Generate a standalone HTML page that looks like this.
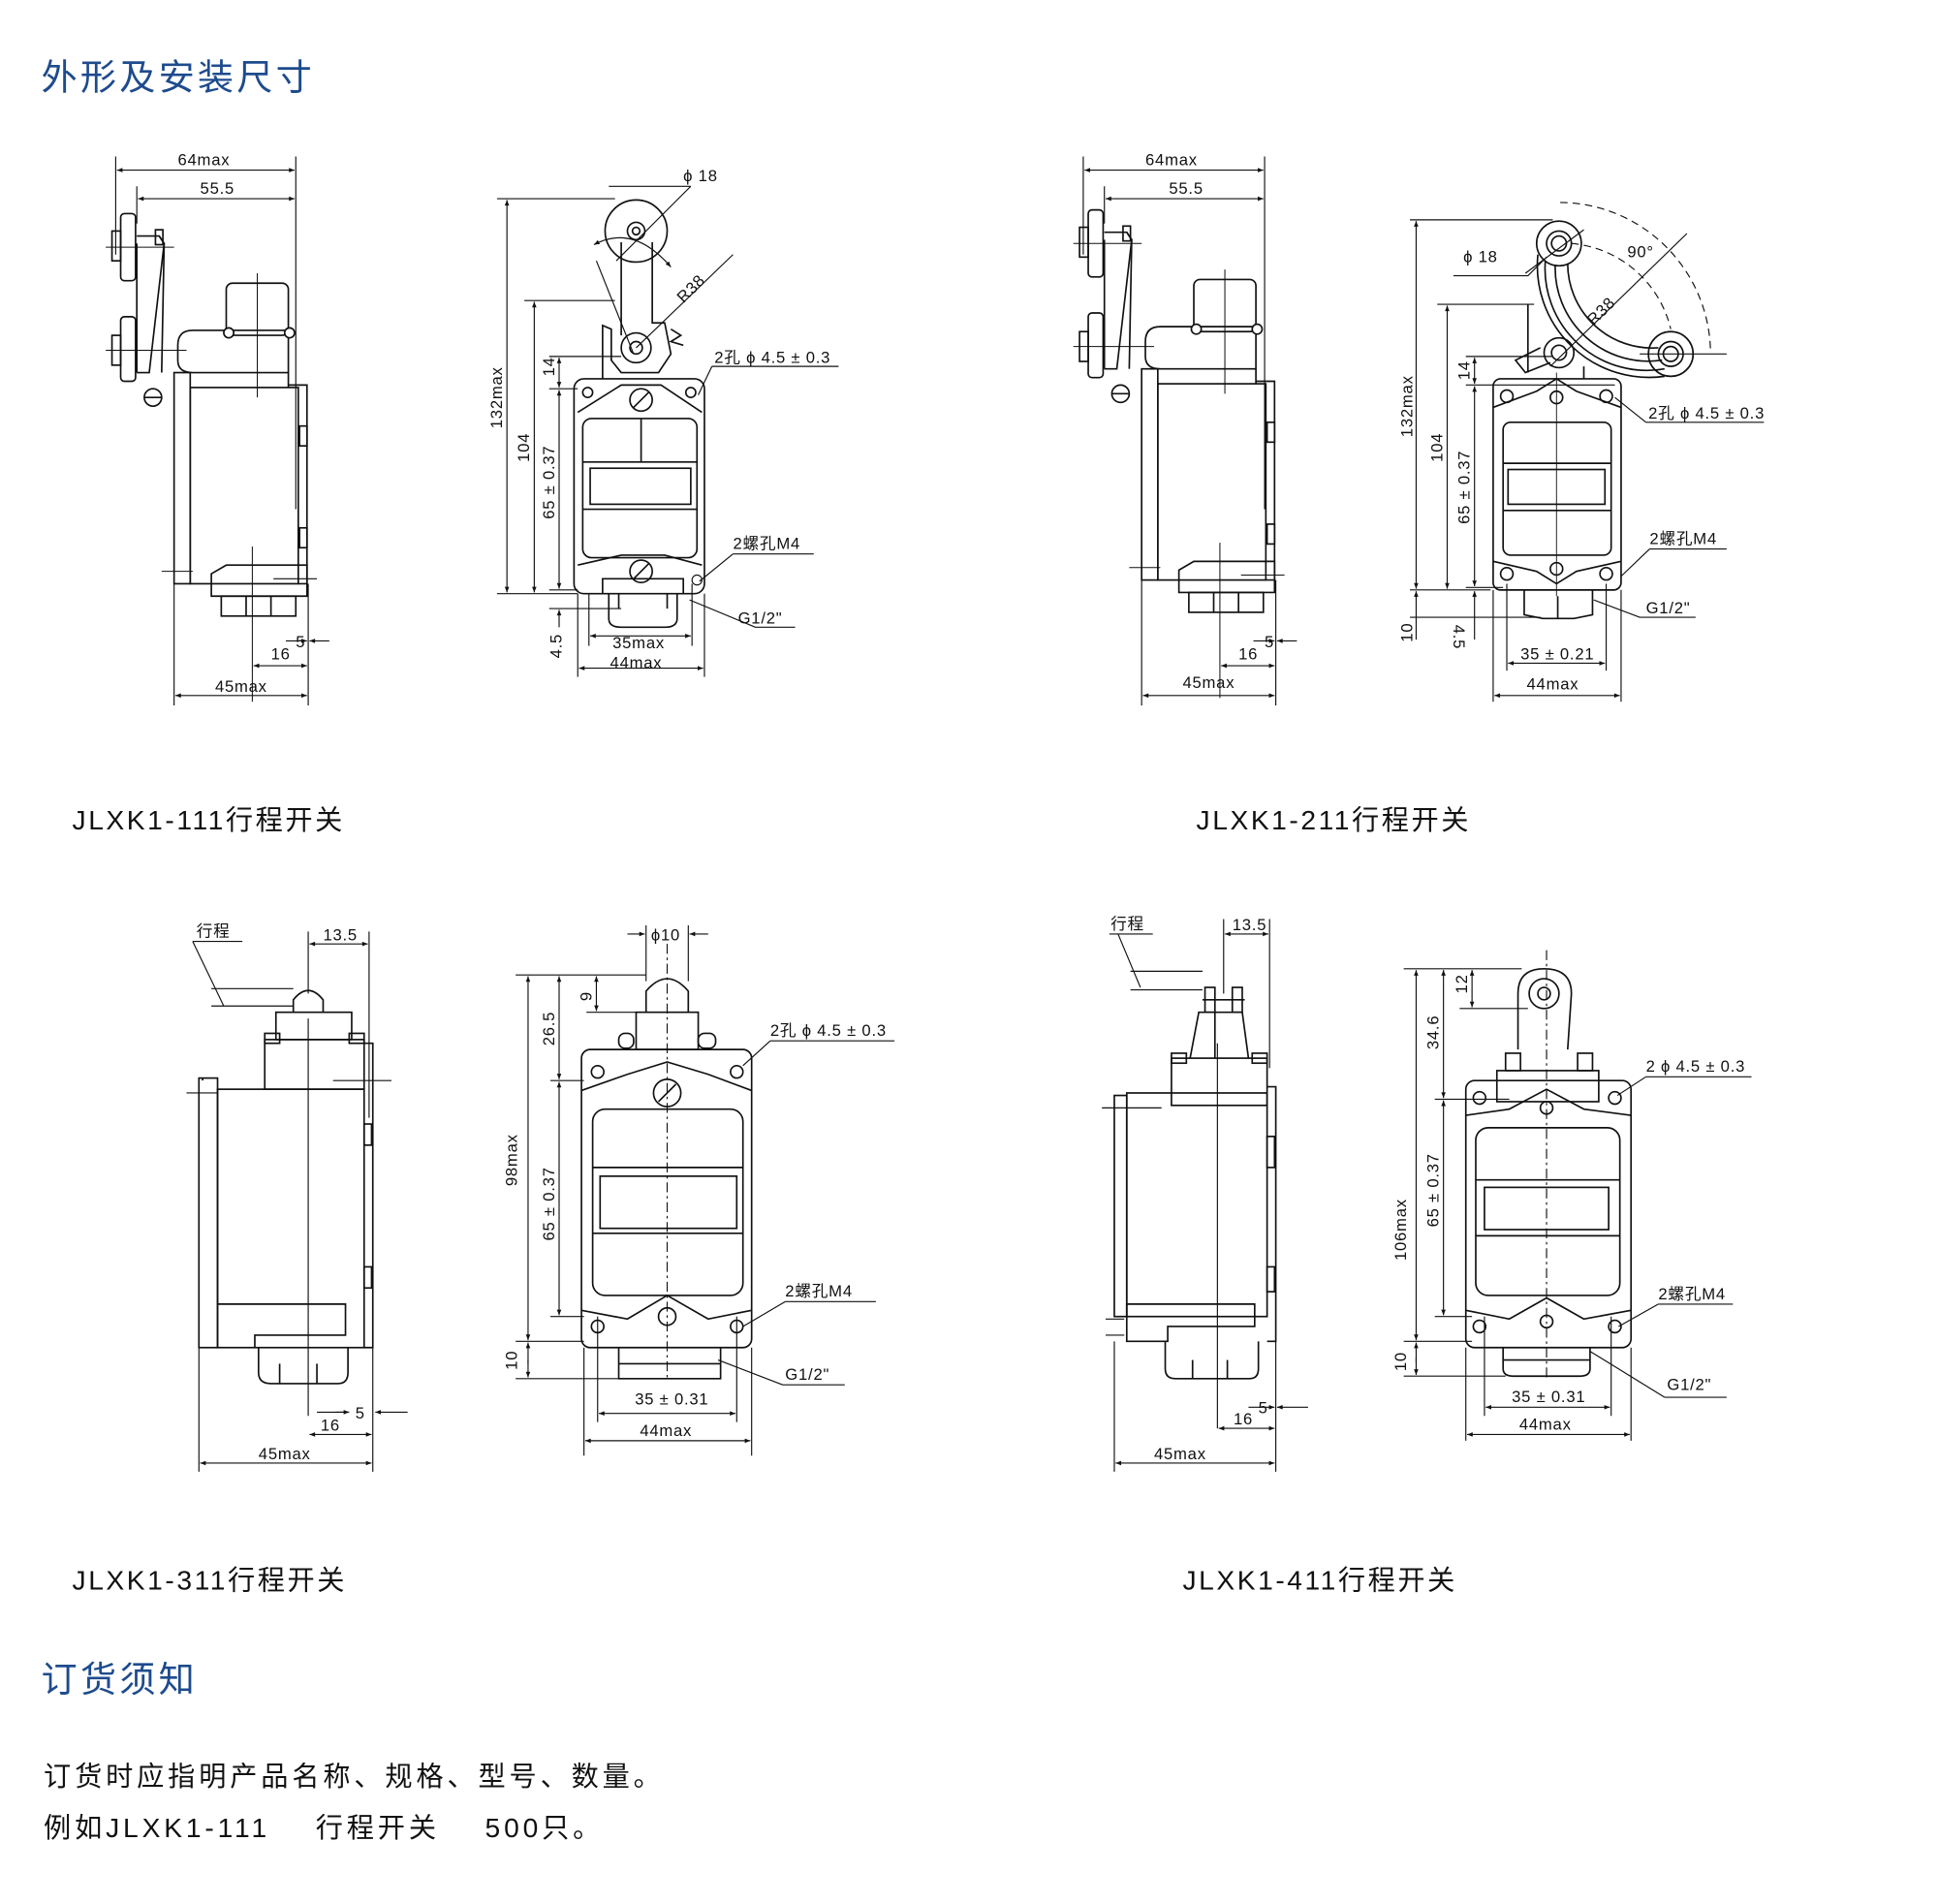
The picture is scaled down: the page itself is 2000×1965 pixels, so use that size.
<!DOCTYPE html>
<html><head><meta charset="utf-8"><style>
html,body{margin:0;padding:0;background:#fff;}
svg{display:block;}
text{font-family:"Liberation Sans","Noto Sans CJK SC",sans-serif;fill:#111;}
.t{font-size:13px;letter-spacing:0.6px;}
.h{font-size:29px;fill:#1e4b8d;letter-spacing:2.5px;}
.c{font-size:22px;fill:#111;letter-spacing:2px;}
.b{font-size:22px;fill:#111;letter-spacing:3px;}
</style></head><body>
<svg width="2000" height="1965" viewBox="0 0 1560 1533" xmlns="http://www.w3.org/2000/svg">
<defs>
<marker id="a" viewBox="0 0 10 10" refX="10" refY="5" markerWidth="7" markerHeight="5" orient="auto-start-reverse"><path d="M0,1L10,5L0,9z" fill="#111"/></marker>
<g id="sideA" fill="none" stroke="#111" stroke-width="1.3">
  <rect x="97" y="172" width="12" height="54" rx="3"/>
  <rect x="90" y="186" width="7" height="24"/>
  <rect x="97" y="255" width="12" height="52" rx="3"/>
  <rect x="90" y="270" width="7" height="24"/>
  <path d="M110,190 L128,190 L132,196 L120,300 L110,300"/>
  <path d="M128,190 L132,196 L130,300"/>
  <rect x="125" y="185" width="6" height="12"/>
  <circle cx="123" cy="320" r="7"/><line x1="116" y1="320" x2="130" y2="320"/>
  <line x1="110" y1="196" x2="110" y2="300" />
  <path d="M143,278 Q143,266 155,266 L232,266 L232,300 L155,300 Q143,300 143,290z"/>
  <rect x="182" y="228" width="50" height="42" rx="5"/>
  <circle cx="184" cy="268" r="4" fill="#fff"/><circle cx="233" cy="268" r="4" fill="#fff"/>
  <rect x="140" y="300" width="13" height="170"/>
  <rect x="153" y="312" width="87" height="158"/>
  <path d="M232,300 L232,312 M232,310 L247,310 L247,470 L240,470"/>
  <rect x="241" y="343" width="6" height="16"/><rect x="241" y="425" width="6" height="16"/>
  <path d="M170,470 L170,462 L182,455 L247,455 L247,480 L170,480z"/>
  <rect x="178" y="480" width="60" height="16"/>
  <line x1="198" y1="480" x2="198" y2="496"/><line x1="218" y1="480" x2="218" y2="496"/>
  <g stroke-width="0.8">
  <line x1="85" y1="199" x2="140" y2="199"/><line x1="85" y1="282" x2="150" y2="282"/>
  <line x1="207" y1="220" x2="207" y2="320"/><line x1="203" y1="440" x2="203" y2="565"/>
  <line x1="130" y1="460" x2="155" y2="460"/><line x1="220" y1="466" x2="255" y2="466"/>
  </g>
</g>
<g id="body1" fill="none" stroke="#111" stroke-width="1.3">
  <rect x="462" y="305" width="105" height="173" rx="8"/>
  <circle cx="473" cy="316" r="4"/><circle cx="556" cy="316" r="4"/>
  <path d="M465,332 L500,310 L532,310 L565,332"/>
  <circle cx="516" cy="322" r="9"/><line x1="510" y1="328" x2="522" y2="316"/>
  <rect x="469" y="337" width="92" height="112" rx="7"/>
  <line x1="516" y1="337" x2="516" y2="372"/>
  <line x1="469" y1="372" x2="561" y2="372"/><line x1="469" y1="410" x2="561" y2="410"/>
  <rect x="475" y="377" width="81" height="29"/>
  <path d="M465,455 L500,447 L535,447 L565,455"/>
  <circle cx="516" cy="460" r="9"/><line x1="510" y1="466" x2="522" y2="454"/>
  <path d="M485,478 L485,466 L550,466 L550,478"/>
  <path d="M490,478 L490,498 Q490,505 500,505 L535,505 Q545,505 545,498 L545,478"/>
  <line x1="498" y1="478" x2="498" y2="490"/><line x1="537" y1="478" x2="537" y2="490"/>
</g>
</defs>

<text x="33" y="72" class="h">外形及安装尺寸</text>

<use href="#sideA"/>
<g fill="none" stroke="#111" stroke-width="0.9">
<line x1="93" y1="126" x2="93" y2="205"/><line x1="238" y1="126" x2="238" y2="410"/>
<line x1="110" y1="150" x2="110" y2="180"/>
<line x1="94" y1="137" x2="237" y2="137" marker-start="url(#a)" marker-end="url(#a)"/>
<line x1="111" y1="160" x2="237" y2="160" marker-start="url(#a)" marker-end="url(#a)"/>
<line x1="140" y1="470" x2="140" y2="568"/><line x1="248" y1="470" x2="248" y2="568"/>
<line x1="141" y1="560" x2="247" y2="560" marker-start="url(#a)" marker-end="url(#a)"/>
<line x1="204" y1="536" x2="247" y2="536" marker-start="url(#a)" marker-end="url(#a)"/>
<line x1="230" y1="516" x2="247" y2="516" marker-end="url(#a)"/><line x1="265" y1="516" x2="249" y2="516" marker-end="url(#a)"/>
</g>
<text x="143" y="133" class="t">64max</text><text x="161" y="156" class="t">55.5</text>
<text x="173" y="557" class="t">45max</text><text x="218" y="531" class="t">16</text><text x="238" y="521" class="t">5</text>

<use href="#body1"/>
<g fill="none" stroke="#111" stroke-width="1.3">
<circle cx="512" cy="186" r="25"/><circle cx="512" cy="186" r="7"/><circle cx="512" cy="186" r="3"/>
<path d="M500,195 L500,270 M525,195 L525,260 L535,260 L540,285 L530,300 L500,300 L492,290 L492,265 L485,262 L485,305"/>
<circle cx="512" cy="280" r="12"/><circle cx="512" cy="280" r="5"/>
<path d="M540,265 L548,270 L540,275 L550,278"/>
</g>
<g fill="none" stroke="#111" stroke-width="0.9">
<line x1="400" y1="160" x2="495" y2="160"/><line x1="408" y1="161" x2="408" y2="477" marker-start="url(#a)" marker-end="url(#a)"/>
<line x1="400" y1="478" x2="465" y2="478"/>
<line x1="422" y1="242" x2="495" y2="242"/><line x1="430" y1="243" x2="430" y2="477" marker-start="url(#a)" marker-end="url(#a)"/>
<line x1="442" y1="287" x2="500" y2="287"/><line x1="450" y1="288" x2="450" y2="312" marker-start="url(#a)" marker-end="url(#a)"/>
<line x1="442" y1="313" x2="465" y2="313"/><line x1="450" y1="314" x2="450" y2="474" marker-start="url(#a)" marker-end="url(#a)"/>
<line x1="442" y1="475" x2="465" y2="475"/>
<line x1="442" y1="490" x2="500" y2="490"/><line x1="450" y1="505" x2="450" y2="491" marker-end="url(#a)"/>
<line x1="465" y1="478" x2="465" y2="545"/><line x1="567" y1="478" x2="567" y2="545"/>
<line x1="474" y1="478" x2="474" y2="520"/><line x1="557" y1="470" x2="557" y2="520"/>
<line x1="475" y1="512" x2="556" y2="512" marker-start="url(#a)" marker-end="url(#a)"/>
<line x1="466" y1="538" x2="566" y2="538" marker-start="url(#a)" marker-end="url(#a)"/>
<path d="M490,150 L556,150 M556,150 L496,210"/>
<path d="M478,197 Q510,180 540,215" marker-start="url(#a)" marker-end="url(#a)"/>
<line x1="480" y1="210" x2="510" y2="285"/><line x1="512" y1="280" x2="590" y2="205"/>
<path d="M573,295 L675,295 M573,295 L562,318"/>
<path d="M590,446 L655,446 M590,446 L563,468"/><circle cx="561" cy="467" r="4"/>
<path d="M608,505 L640,505 M608,505 L555,483"/>
</g>
<text x="550" y="146" class="t">ϕ 18</text>
<text x="545" y="240" class="t" transform="rotate(-45 553 236)">R38</text>
<text x="575" y="292" class="t">2孔 ϕ 4.5 ± 0.3</text>
<text x="590" y="442" class="t">2螺孔M4</text>
<text x="594" y="502" class="t">G1/2"</text>
<text x="404" y="345" class="t" transform="rotate(-90 404 345)">132max</text>
<text x="426" y="372" class="t" transform="rotate(-90 426 372)">104</text>
<text x="446" y="303" class="t" transform="rotate(-90 446 303)">14</text>
<text x="446" y="418" class="t" transform="rotate(-90 446 418)">65 ± 0.37</text>
<text x="452" y="530" class="t" transform="rotate(-90 452 530)">4.5</text>
<text x="493" y="522" class="t">35max</text><text x="491" y="538" class="t">44max</text>

<text x="58" y="668" class="c">JLXK1-111行程开关</text>

<use href="#sideA" transform="translate(779,-3)"/>
<g fill="none" stroke="#111" stroke-width="0.9">
<line x1="872" y1="126" x2="872" y2="205"/><line x1="1018" y1="126" x2="1018" y2="410"/>
<line x1="889" y1="150" x2="889" y2="180"/>
<line x1="873" y1="137" x2="1017" y2="137" marker-start="url(#a)" marker-end="url(#a)"/>
<line x1="890" y1="160" x2="1017" y2="160" marker-start="url(#a)" marker-end="url(#a)"/>
<line x1="919" y1="467" x2="919" y2="568"/><line x1="1027" y1="467" x2="1027" y2="568"/>
<line x1="920" y1="560" x2="1026" y2="560" marker-start="url(#a)" marker-end="url(#a)"/>
<line x1="983" y1="536" x2="1026" y2="536" marker-start="url(#a)" marker-end="url(#a)"/>
<line x1="1009" y1="516" x2="1026" y2="516" marker-end="url(#a)"/><line x1="1044" y1="516" x2="1028" y2="516" marker-end="url(#a)"/>
</g>
<text x="922" y="133" class="t">64max</text><text x="941" y="156" class="t">55.5</text>
<text x="952" y="554" class="t">45max</text><text x="997" y="531" class="t">16</text><text x="1018" y="521" class="t">5</text>

<g transform="translate(737,0)">
<g fill="none" stroke="#111" stroke-width="1.3">
  <rect x="465" y="305" width="103" height="170" rx="6"/>
  <circle cx="476" cy="319" r="5"/><circle cx="556" cy="319" r="5"/>
  <circle cx="476" cy="462" r="5"/><circle cx="556" cy="462" r="5"/>
  <path d="M465,328 L500,315 L516,305 L532,315 L568,328"/>
  <path d="M465,452 L500,460 L516,470 L532,460 L568,452"/>
  <circle cx="516" cy="320" r="5"/><circle cx="516" cy="458" r="5"/>
  <rect x="473" y="340" width="87" height="107" rx="6"/>
  <line x1="473" y1="373" x2="560" y2="373"/><line x1="473" y1="411" x2="560" y2="411"/>
  <rect x="477" y="378" width="78" height="28"/>
  <path d="M490,475 L490,495 L505,498 L530,498 L545,495 L545,475"/>
  <line x1="517" y1="480" x2="517" y2="498"/>
</g>
<line x1="516" y1="300" x2="516" y2="480" stroke="#111" stroke-width="0.7"/>
</g>
<g fill="none" stroke="#111" stroke-width="1.3">
<circle cx="1255" cy="196" r="18"/><circle cx="1255" cy="196" r="10"/><circle cx="1255" cy="196" r="6"/>
<circle cx="1345" cy="285" r="18"/><circle cx="1345" cy="285" r="10"/><circle cx="1345" cy="285" r="6"/>
<path d="M1238,205 A90,90 0 0 0 1340,303"/><path d="M1244,210 A82,82 0 0 0 1340,297"/>
<path d="M1252,213 A75,75 0 0 0 1338,290"/><path d="M1262,212 A68,68 0 0 0 1335,280"/>
<circle cx="1255" cy="284" r="12"/><circle cx="1255" cy="284" r="6"/>
<path d="M1240,280 L1220,290 L1228,300 L1248,292"/>
<path d="M1230,245 L1230,300 M1275,305 L1275,295"/>
</g>
<g fill="none" stroke="#111" stroke-width="0.9">
<path d="M1256,163 A122,122 0 0 1 1377,284" stroke-dasharray="6,4"/>
<path d="M1265,196 A90,90 0 0 1 1345,265" stroke-dasharray="6,4"/>
<line x1="1228" y1="220" x2="1275" y2="185"/><line x1="1248" y1="295" x2="1358" y2="188"/>
<line x1="1320" y1="285" x2="1390" y2="285"/>
<path d="M1170,222 L1230,222 L1245,207"/>
<line x1="1135" y1="177" x2="1250" y2="177"/><line x1="1140" y1="178" x2="1140" y2="474" marker-start="url(#a)" marker-end="url(#a)"/>
<line x1="1135" y1="475" x2="1200" y2="475"/>
<line x1="1157" y1="245" x2="1235" y2="245"/><line x1="1165" y1="246" x2="1165" y2="474" marker-start="url(#a)" marker-end="url(#a)"/>
<line x1="1180" y1="287" x2="1250" y2="287"/><line x1="1187" y1="288" x2="1187" y2="309" marker-start="url(#a)" marker-end="url(#a)"/>
<line x1="1180" y1="310" x2="1300" y2="310"/><line x1="1187" y1="311" x2="1187" y2="472" marker-start="url(#a)" marker-end="url(#a)"/>
<line x1="1180" y1="473" x2="1210" y2="473"/>
<line x1="1135" y1="497" x2="1240" y2="497"/><line x1="1140" y1="515" x2="1140" y2="476" marker-end="url(#a)"/>
<line x1="1187" y1="515" x2="1187" y2="476" marker-end="url(#a)"/>
<line x1="1213" y1="470" x2="1213" y2="540"/><line x1="1293" y1="470" x2="1293" y2="540"/>
<line x1="1202" y1="475" x2="1202" y2="565"/><line x1="1305" y1="475" x2="1305" y2="565"/>
<line x1="1214" y1="534" x2="1292" y2="534" marker-start="url(#a)" marker-end="url(#a)"/>
<line x1="1203" y1="560" x2="1304" y2="560" marker-start="url(#a)" marker-end="url(#a)"/>
<path d="M1325,340 L1420,340 M1325,340 L1300,320"/>
<path d="M1328,442 L1390,442 M1328,442 L1305,464"/>
<path d="M1320,497 L1365,497 M1320,497 L1283,483"/>
</g>
<text x="1178" y="211" class="t">ϕ 18</text><text x="1310" y="207" class="t">90°</text>
<text x="1276" y="258" class="t" transform="rotate(-45 1285 252)">R38</text>
<text x="1327" y="337" class="t">2孔 ϕ 4.5 ± 0.3</text>
<text x="1328" y="438" class="t">2螺孔M4</text><text x="1325" y="494" class="t">G1/2"</text>
<text x="1137" y="352" class="t" transform="rotate(-90 1137 352)">132max</text>
<text x="1161" y="372" class="t" transform="rotate(-90 1161 372)">104</text>
<text x="1183" y="306" class="t" transform="rotate(-90 1183 306)">14</text>
<text x="1183" y="422" class="t" transform="rotate(-90 1183 422)">65 ± 0.37</text>
<text x="1137" y="517" class="t" transform="rotate(-90 1137 517)">10</text>
<text x="1170" y="503" class="t" transform="rotate(90 1170 503)">4.5</text>
<text x="1224" y="531" class="t">35 ± 0.21</text><text x="1229" y="555" class="t">44max</text>

<text x="963" y="668" class="c">JLXK1-211行程开关</text>

<g fill="none" stroke="#111" stroke-width="1.3">
<path d="M236,815 L236,805 Q248,790 260,805 L260,815"/>
<rect x="222" y="815" width="61" height="22"/>
<rect x="213" y="837" width="80" height="40"/>
<rect x="213" y="832" width="12" height="8"/><rect x="281" y="832" width="12" height="8"/>
<rect x="160" y="868" width="15" height="217"/>
<rect x="175" y="877" width="118" height="208"/>
<path d="M163,868 L163,870 M293,840 L300,840 L300,1085 L293,1085"/>
<rect x="293" y="905" width="6" height="17"/><rect x="293" y="1020" width="6" height="17"/>
<path d="M175,1050 L278,1050 L278,1075 L205,1075 L205,1085"/>
<path d="M208,1085 L208,1105 Q208,1114 218,1114 L272,1114 Q280,1114 280,1105 L280,1085"/>
<line x1="225" y1="1098" x2="225" y2="1114"/><line x1="255" y1="1098" x2="255" y2="1114"/>
</g>
<g fill="none" stroke="#111" stroke-width="0.9">
<line x1="248" y1="750" x2="248" y2="800"/><line x1="297" y1="750" x2="297" y2="900"/>
<line x1="249" y1="760" x2="296" y2="760" marker-start="url(#a)" marker-end="url(#a)"/>
<path d="M155,758 L195,758 M155,758 L180,810"/>
<line x1="170" y1="796" x2="236" y2="796"/><line x1="170" y1="810" x2="236" y2="810"/>
<line x1="248" y1="820" x2="248" y2="1140"/>
<line x1="150" y1="880" x2="175" y2="880"/><line x1="268" y1="870" x2="315" y2="870"/>
<line x1="160" y1="1085" x2="160" y2="1185"/><line x1="300" y1="1085" x2="300" y2="1185"/>
<line x1="161" y1="1178" x2="299" y2="1178" marker-start="url(#a)" marker-end="url(#a)"/>
<line x1="249" y1="1155" x2="299" y2="1155" marker-start="url(#a)" marker-end="url(#a)"/>
<line x1="255" y1="1137" x2="280" y2="1137"/><line x1="328" y1="1137" x2="302" y2="1137" marker-end="url(#a)"/>
<line x1="270" y1="1137" x2="281" y2="1137" marker-end="url(#a)"/>
</g>
<text x="158" y="754" class="t">行程</text><text x="260" y="757" class="t">13.5</text>
<text x="208" y="1175" class="t">45max</text><text x="258" y="1152" class="t">16</text><text x="286" y="1142" class="t">5</text>

<g fill="none" stroke="#111" stroke-width="1.3">
<path d="M520,815 L520,798 Q537,778 554,798 L554,815"/>
<rect x="512" y="815" width="50" height="30"/>
<rect x="498" y="832" width="12" height="12" rx="5"/><rect x="562" y="832" width="14" height="12" rx="5"/>
<rect x="468" y="845" width="137" height="240" rx="7"/>
<circle cx="481" cy="863" r="5"/><circle cx="593" cy="863" r="5"/>
<circle cx="481" cy="1068" r="5"/><circle cx="593" cy="1068" r="5"/>
<path d="M468,878 L505,865 L537,855 L570,865 L605,878"/>
<circle cx="537" cy="880" r="11"/><line x1="530" y1="887" x2="544" y2="873"/>
<path d="M468,1055 L505,1062 L537,1043 L570,1062 L605,1055"/>
<circle cx="537" cy="1060" r="7"/>
<rect x="477" y="893" width="121" height="150" rx="10"/>
<line x1="477" y1="940" x2="598" y2="940"/><line x1="477" y1="993" x2="598" y2="993"/>
<rect x="483" y="947" width="110" height="42"/>
<path d="M498,1085 L498,1110 L580,1110 L580,1085 M498,1098 L580,1098"/>
</g>
<g fill="none" stroke="#111" stroke-width="0.9">
<line x1="537" y1="760" x2="537" y2="1110" stroke-dasharray="8,3,2,3"/>
<line x1="520" y1="745" x2="520" y2="790"/><line x1="554" y1="745" x2="554" y2="790"/>
<line x1="505" y1="752" x2="519" y2="752" marker-end="url(#a)"/><line x1="570" y1="752" x2="555" y2="752" marker-end="url(#a)"/>
<line x1="415" y1="785" x2="520" y2="785"/><line x1="425" y1="786" x2="425" y2="1079" marker-start="url(#a)" marker-end="url(#a)"/>
<line x1="415" y1="1080" x2="470" y2="1080"/>
<line x1="472" y1="815" x2="515" y2="815"/><line x1="480" y1="786" x2="480" y2="814" marker-start="url(#a)" marker-end="url(#a)"/>
<line x1="443" y1="870" x2="470" y2="870"/><line x1="450" y1="786" x2="450" y2="869" marker-start="url(#a)" marker-end="url(#a)"/>
<line x1="450" y1="871" x2="450" y2="1059" marker-start="url(#a)" marker-end="url(#a)"/>
<line x1="443" y1="1060" x2="470" y2="1060"/>
<line x1="415" y1="1110" x2="500" y2="1110"/>
<line x1="425" y1="1098" x2="425" y2="1081" marker-end="url(#a)"/><line x1="425" y1="1095" x2="425" y2="1109" marker-end="url(#a)"/>
<line x1="470" y1="1085" x2="470" y2="1172"/><line x1="605" y1="1085" x2="605" y2="1172"/>
<line x1="481" y1="1060" x2="481" y2="1145"/><line x1="593" y1="1060" x2="593" y2="1145"/>
<line x1="482" y1="1138" x2="592" y2="1138" marker-start="url(#a)" marker-end="url(#a)"/>
<line x1="471" y1="1160" x2="604" y2="1160" marker-start="url(#a)" marker-end="url(#a)"/>
<path d="M620,838 L720,838 M620,838 L598,858"/>
<path d="M632,1048 L705,1048 M632,1048 L598,1068"/>
<path d="M630,1115 L680,1115 M630,1115 L578,1095"/>
</g>
<text x="524" y="757" class="t">ϕ10</text>
<text x="620" y="834" class="t">2孔 ϕ 4.5 ± 0.3</text>
<text x="632" y="1044" class="t">2螺孔M4</text><text x="632" y="1111" class="t">G1/2"</text>
<text x="416" y="955" class="t" transform="rotate(-90 416 955)">98max</text>
<text x="476" y="806" class="t" transform="rotate(-90 476 806)">9</text>
<text x="446" y="842" class="t" transform="rotate(-90 446 842)">26.5</text>
<text x="446" y="999" class="t" transform="rotate(-90 446 999)">65 ± 0.37</text>
<text x="416" y="1103" class="t" transform="rotate(-90 416 1103)">10</text>
<text x="511" y="1131" class="t">35 ± 0.31</text><text x="515" y="1156" class="t">44max</text>

<text x="58" y="1280" class="c">JLXK1-311行程开关</text>

<g fill="none" stroke="#111" stroke-width="1.3">
<rect x="970" y="795" width="8" height="20"/><rect x="992" y="795" width="8" height="20"/>
<line x1="968" y1="805" x2="1002" y2="805"/>
<path d="M958,852 L965,815 L1000,815 L1005,852"/>
<line x1="978" y1="815" x2="978" y2="852"/>
<rect x="943" y="852" width="77" height="38"/>
<rect x="943" y="848" width="12" height="8"/><rect x="1008" y="848" width="12" height="8"/>
<rect x="897" y="882" width="10" height="178"/>
<rect x="907" y="880" width="113" height="180"/>
<path d="M1020,875 L1027,875 L1027,1080 L1020,1080"/>
<rect x="1020" y="915" width="6" height="25"/><rect x="1020" y="1020" width="6" height="20"/>
<path d="M907,1050 L1010,1050 L1010,1068 L940,1068 L940,1080 L907,1080z"/>
<path d="M938,1080 L938,1102 Q938,1110 946,1110 L1006,1110 Q1013,1110 1013,1102 L1013,1080"/>
<line x1="960" y1="1095" x2="960" y2="1110"/><line x1="988" y1="1095" x2="988" y2="1110"/>
</g>
<g fill="none" stroke="#111" stroke-width="0.9">
<line x1="985" y1="740" x2="985" y2="800"/><line x1="1022" y1="740" x2="1022" y2="860"/>
<line x1="986" y1="752" x2="1021" y2="752" marker-start="url(#a)" marker-end="url(#a)"/>
<path d="M893,752 L928,752 M900,752 L918,795"/>
<line x1="910" y1="782" x2="968" y2="782"/><line x1="910" y1="797" x2="968" y2="797"/>
<line x1="980" y1="840" x2="980" y2="1150"/>
<line x1="887" y1="892" x2="935" y2="892"/>
<line x1="890" y1="1062" x2="905" y2="1062"/><line x1="890" y1="1075" x2="905" y2="1075"/>
<line x1="897" y1="1080" x2="897" y2="1185"/><line x1="1027" y1="1080" x2="1027" y2="1185"/>
<line x1="898" y1="1178" x2="1026" y2="1178" marker-start="url(#a)" marker-end="url(#a)"/>
<line x1="981" y1="1150" x2="1026" y2="1150" marker-start="url(#a)" marker-end="url(#a)"/>
<line x1="1005" y1="1133" x2="1026" y2="1133" marker-end="url(#a)"/><line x1="1053" y1="1133" x2="1028" y2="1133" marker-end="url(#a)"/>
</g>
<text x="894" y="748" class="t">行程</text><text x="992" y="749" class="t">13.5</text>
<text x="929" y="1175" class="t">45max</text><text x="993" y="1147" class="t">16</text><text x="1013" y="1138" class="t">5</text>

<g fill="none" stroke="#111" stroke-width="1.3">
<path d="M1222,845 L1222,800 Q1222,780 1243,780 Q1265,780 1265,800 L1262,845"/>
<circle cx="1243" cy="800" r="12"/><circle cx="1243" cy="800" r="5"/>
<rect x="1212" y="848" width="12" height="14"/><rect x="1270" y="848" width="12" height="14"/>
<rect x="1205" y="862" width="82" height="25"/>
<rect x="1180" y="870" width="133" height="215" rx="7"/>
<circle cx="1191" cy="884" r="5"/><circle cx="1300" cy="884" r="5"/>
<circle cx="1191" cy="1068" r="5"/><circle cx="1300" cy="1068" r="5"/>
<path d="M1180,898 L1215,893 L1245,877 L1275,893 L1313,898"/>
<circle cx="1245" cy="892" r="5"/>
<path d="M1180,1055 L1215,1062 L1245,1045 L1275,1062 L1313,1055"/>
<circle cx="1245" cy="1064" r="5"/>
<rect x="1188" y="908" width="116" height="135" rx="10"/>
<line x1="1188" y1="950" x2="1304" y2="950"/><line x1="1188" y1="995" x2="1304" y2="995"/>
<rect x="1195" y="956" width="100" height="34"/>
<path d="M1210,1085 L1210,1102 Q1210,1108 1218,1108 L1272,1108 Q1280,1108 1280,1102 L1280,1085 M1210,1095 L1280,1095"/>
</g>
<g fill="none" stroke="#111" stroke-width="0.9">
<line x1="1245" y1="765" x2="1245" y2="1110" stroke-dasharray="8,3,2,3"/>
<line x1="1130" y1="780" x2="1225" y2="780"/><line x1="1140" y1="781" x2="1140" y2="1079" marker-start="url(#a)" marker-end="url(#a)"/>
<line x1="1130" y1="1080" x2="1185" y2="1080"/>
<line x1="1162" y1="781" x2="1162" y2="884" marker-start="url(#a)" marker-end="url(#a)"/>
<line x1="1155" y1="885" x2="1215" y2="885"/>
<line x1="1175" y1="812" x2="1230" y2="812"/><line x1="1185" y1="781" x2="1185" y2="811" marker-start="url(#a)" marker-end="url(#a)"/>
<line x1="1162" y1="886" x2="1162" y2="1059" marker-start="url(#a)" marker-end="url(#a)"/>
<line x1="1155" y1="1060" x2="1185" y2="1060"/>
<line x1="1130" y1="1108" x2="1212" y2="1108"/>
<line x1="1140" y1="1097" x2="1140" y2="1081" marker-end="url(#a)"/><line x1="1140" y1="1093" x2="1140" y2="1107" marker-end="url(#a)"/>
<line x1="1180" y1="1085" x2="1180" y2="1160"/><line x1="1313" y1="1085" x2="1313" y2="1160"/>
<line x1="1195" y1="1060" x2="1195" y2="1140"/><line x1="1297" y1="1060" x2="1297" y2="1140"/>
<line x1="1196" y1="1133" x2="1296" y2="1133" marker-start="url(#a)" marker-end="url(#a)"/>
<line x1="1181" y1="1155" x2="1312" y2="1155" marker-start="url(#a)" marker-end="url(#a)"/>
<path d="M1325,867 L1410,867 M1325,867 L1302,882"/>
<path d="M1335,1050 L1395,1050 M1335,1050 L1303,1068"/>
<path d="M1340,1125 L1390,1125 M1340,1125 L1280,1088"/>
</g>
<text x="1325" y="863" class="t">2 ϕ 4.5 ± 0.3</text>
<text x="1335" y="1046" class="t">2螺孔M4</text><text x="1342" y="1119" class="t">G1/2"</text>
<text x="1132" y="1015" class="t" transform="rotate(-90 1132 1015)">106max</text>
<text x="1158" y="845" class="t" transform="rotate(-90 1158 845)">34.6</text>
<text x="1181" y="800" class="t" transform="rotate(-90 1181 800)">12</text>
<text x="1158" y="988" class="t" transform="rotate(-90 1158 988)">65 ± 0.37</text>
<text x="1132" y="1104" class="t" transform="rotate(-90 1132 1104)">10</text>
<text x="1217" y="1129" class="t">35 ± 0.31</text><text x="1223" y="1151" class="t">44max</text>

<text x="952" y="1280" class="c">JLXK1-411行程开关</text>

<text x="33" y="1362" class="h">订货须知</text>
<text x="35" y="1438" class="b">订货时应指明产品名称、规格、型号、数量。</text>
<text x="35" y="1479" class="b" xml:space="preserve">例如JLXK1-111    行程开关    500只。</text>
</svg>
</body></html>
